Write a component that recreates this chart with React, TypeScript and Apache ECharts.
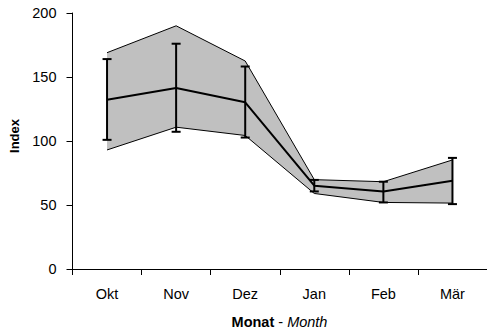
import React, { useEffect, useRef } from "react";
import * as echarts from "echarts";

const months = ["Okt", "Nov", "Dez", "Jan", "Feb", "Mär"];
const bandUpper = [169, 190, 162.5, 69.8, 68.2, 85.2];
const bandLower = [93, 110.8, 104.3, 59, 52, 51.5];
const meanValues = [132.3, 141.4, 130.2, 65.1, 60.6, 69];
const errTop = [164, 176, 158.2, 69.6, 68.2, 86.8];
const errBottom = [100.9, 107.2, 102.7, 60.6, 52, 50.7];
const yTicks = [0, 50, 100, 150, 200];

const FONT = "'Liberation Sans', Arial, sans-serif";

export default function App() {
  const ref = useRef<HTMLDivElement>(null);
  useEffect(() => {
    if (!ref.current) return;
    const chart = echarts.init(ref.current, null, { renderer: "svg" });
    const bandDiff = bandUpper.map((u, i) => u - bandLower[i]);
    chart.setOption({
      animation: false,
      backgroundColor: "#ffffff",
      grid: { left: 72.5, top: 13, width: 419.5, height: 256 },
      xAxis: {
        type: "category",
        data: months,
        boundaryGap: true,
        axisLine: { lineStyle: { color: "#000", width: 1 } },
        axisTick: { show: true, length: 6, inside: false, lineStyle: { color: "#000" } },
        axisLabel: { color: "#000", fontSize: 14.5, fontFamily: FONT, margin: 17 },
        splitLine: { show: false },
      },
      yAxis: {
        type: "value",
        min: yTicks[0],
        max: yTicks[yTicks.length - 1],
        interval: 50,
        axisLine: { show: true, lineStyle: { color: "#000", width: 1 } },
        axisTick: { show: true, length: 6, lineStyle: { color: "#000" } },
        axisLabel: { color: "#000", fontSize: 14.5, fontFamily: FONT, margin: 16 },
        splitLine: { show: false },
      },
      graphic: [
        {
          type: "text",
          x: 14.5,
          y: 136,
          rotation: Math.PI / 2,
          style: {
            text: "Index",
            fontWeight: "bold",
            fontSize: 13,
            fontFamily: FONT,
            fill: "#000",
            align: "center",
            verticalAlign: "middle",
          },
        },
        {
          type: "text",
          x: 279.5,
          y: 321.5,
          style: {
            text: "{b|Monat} {n|-} {i|Month}",
            align: "center",
            verticalAlign: "middle",
            rich: {
              b: { fontWeight: "bold", fontSize: 14.5, fontFamily: FONT, fill: "#000" },
              n: { fontSize: 14.5, fontFamily: FONT, fill: "#000" },
              i: { fontStyle: "italic", fontSize: 14.5, fontFamily: FONT, fill: "#000" },
            },
            fontSize: 14.5,
            fontFamily: FONT,
            fill: "#000",
          },
        },
      ],
      series: [
        {
          type: "line",
          data: bandLower,
          stack: "band",
          symbol: "none",
          lineStyle: { color: "#000", width: 1 },
          z: 1,
        },
        {
          type: "line",
          data: bandDiff,
          stack: "band",
          symbol: "none",
          lineStyle: { color: "#000", width: 1 },
          areaStyle: { color: "#c0c0c0", opacity: 1 },
          z: 1,
        },
        {
          type: "line",
          data: meanValues,
          symbol: "none",
          lineStyle: { color: "#000", width: 2 },
          z: 3,
        },
        {
          type: "custom",
          data: months.map((_, i) => [i, errBottom[i], errTop[i]]),
          z: 4,
          renderItem: (params: any, api: any) => {
            const x = api.value(0);
            const lo = api.coord([x, api.value(1)]);
            const hi = api.coord([x, api.value(2)]);
            const hw = 4.5;
            const style = { stroke: "#000", lineWidth: 2 };
            return {
              type: "group",
              children: [
                { type: "line", shape: { x1: lo[0], y1: lo[1], x2: hi[0], y2: hi[1] }, style },
                { type: "line", shape: { x1: hi[0] - hw, y1: hi[1], x2: hi[0] + hw, y2: hi[1] }, style },
                { type: "line", shape: { x1: lo[0] - hw, y1: lo[1], x2: lo[0] + hw, y2: lo[1] }, style },
              ],
            };
          },
        },
      ],
    });
    return () => chart.dispose();
  }, []);
  return <div ref={ref} style={{ width: 487, height: 331, position: "absolute", left: 0, top: 0 }} />;
}
